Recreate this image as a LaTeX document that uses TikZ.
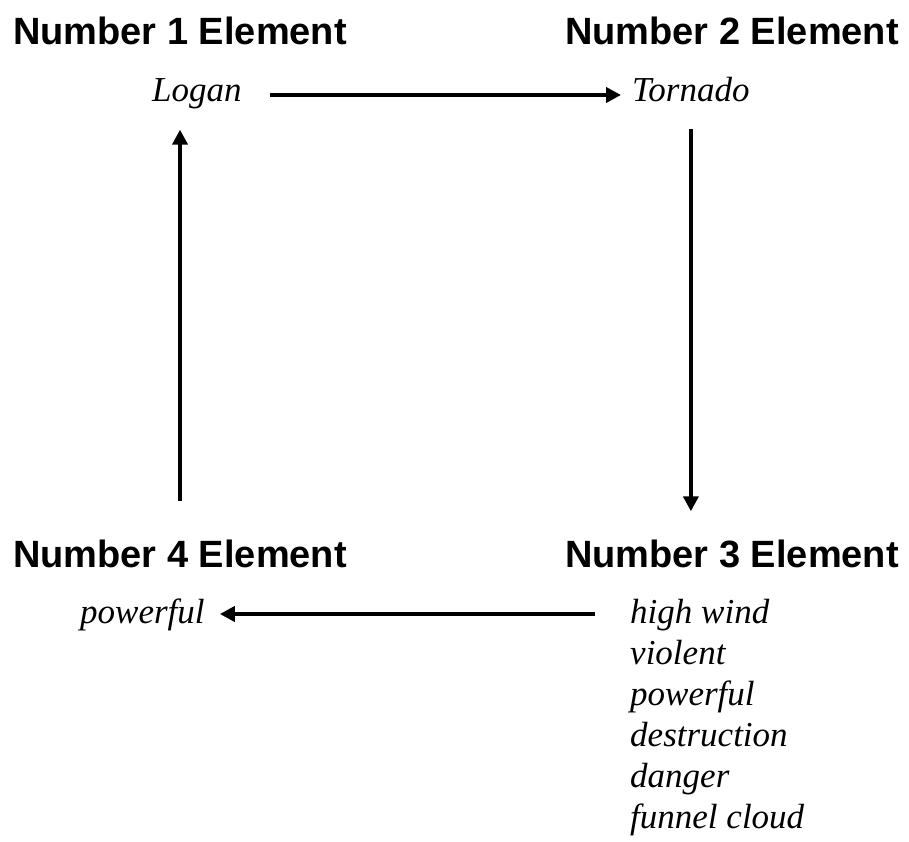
\documentclass[tikz,border=0pt]{standalone}
\usepackage{fontspec}
\setmainfont{Liberation Serif}
\newfontfamily\headfont{Liberation Sans}
\usetikzlibrary{arrows.meta}
\begin{document}
\begin{tikzpicture}[x=1pt,y=-1pt,
  head/.style={anchor=base west,inner sep=0pt,font=\headfont\bfseries\fontsize{38}{40}\selectfont},
  word/.style={anchor=base west,inner sep=0pt,font=\itshape\fontsize{35}{40}\selectfont},
  conn/.style={line width=3.8pt,-{Triangle[length=15pt,width=15pt]}}]
\useasboundingbox[fill=white] (0,0) rectangle (909,842);
\node[head] (h1) at (13,45) {Number 1 Element};
\node[head] (h2) at (565,45) {Number 2 Element};
\node[head] (h4) at (13,567) {Number 4 Element};
\node[head] (h3) at (565,567) {Number 3 Element};
\node[word] (logan) at (152,102) {Logan};
\node[word] (tornado) at (632,102) {Tornado};
\node[word] (pow) at (80,623) {powerful};
\node[word] (w1) at (630,623) {high wind};
\node[word] (w2) at (630,664) {violent};
\node[word] (w3) at (630,705) {powerful};
\node[word] (w4) at (630,746) {destruction};
\node[word] (w5) at (630,787) {danger};
\node[word] (w6) at (630,828) {funnel cloud};
% Logan -> Tornado
\draw[conn] ([xshift=28pt]logan.east |- 0,95) -- ([xshift=-11pt]tornado.west |- 0,95);
% Tornado -> Number 3
\draw[conn] ([yshift=-26pt]tornado.south) -- ([yshift=28pt]tornado.south |- h3.north);
% high wind -> powerful
\draw[conn] ([xshift=-35pt]w1.west |- 0,614) -- ([xshift=15pt]pow.east |- 0,614);
% Number 4 -> Logan
\draw[conn] ([yshift=38pt]h4.north) -- ([yshift=-20pt]h4.north |- logan.south);
\end{tikzpicture}
\end{document}
